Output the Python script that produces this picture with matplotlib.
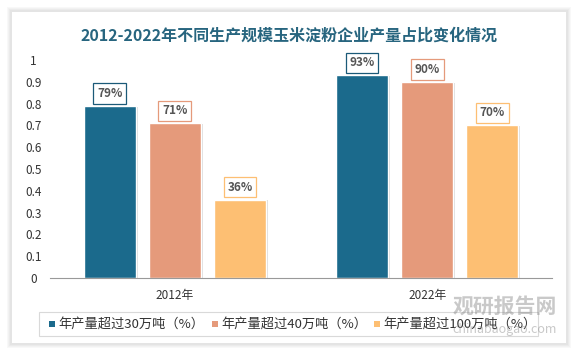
import numpy as np
import matplotlib.pyplot as plt
from matplotlib.patches import Rectangle

plt.rcParams['font.family'] = ['Noto Sans CJK SC', 'DejaVu Sans']
plt.rcParams['hatch.color'] = '#cfcfcf'
plt.rcParams['hatch.linewidth'] = 0.6

years = ['2012年', '2022年']
series = ['年产量超过30万吨（%）', '年产量超过40万吨（%）', '年产量超过100万吨（%）']
values = [
    [0.79, 0.93],
    [0.71, 0.90],
    [0.36, 0.70],
]
labels = [['79%', '93%'], ['71%', '90%'], ['36%', '70%']]
colors = ['#1b6a8c', '#e59a7b', '#fdbf73']

W, H = 579, 354
fig = plt.figure(figsize=(W / 100, H / 100), dpi=100)
fig.patch.set_facecolor('white')

# card with soft shadow
cx0, cy0, cx1, cy1 = 12, 12, 566, 343
for i, a in enumerate([0.05, 0.05, 0.06, 0.07]):
    d = 5 - i
    fig.patches.append(Rectangle(((cx0 - d) / W, 1 - (cy1 + d) / H),
                                 (cx1 - cx0 + 2 * d) / W, (cy1 - cy0 + 2 * d) / H,
                                 transform=fig.transFigure, facecolor='#888888',
                                 edgecolor='none', alpha=a, zorder=-3))
fig.patches.append(Rectangle((cx0 / W, 1 - cy1 / H), (cx1 - cx0) / W, (cy1 - cy0) / H,
                             transform=fig.transFigure, facecolor='white',
                             edgecolor='none', zorder=-2))

fig.text(289 / W, 1 - 36 / H, '2012-2022年不同生产规模玉米淀粉企业产量占比变化情况',
         ha='center', va='center', fontsize=11.5, fontweight='bold', color='#27657f')

ax = fig.add_axes([50 / W, 1 - 278 / H, 502 / W, 218 / H])
ax.set_facecolor('none')
ax.add_patch(Rectangle((0, 0), 1, 1, transform=ax.transAxes, facecolor='white',
                       edgecolor='none', hatch='\\\\\\\\\\', zorder=0))

x = np.arange(len(years))
bw = 0.206
step = 0.258
for i, (vals, col) in enumerate(zip(values, colors)):
    xs = x + (i - 1) * step
    # shadow
    ax.bar(xs + 0.008, np.array(vals) - 0.004, bw, color='#bbbbbb', alpha=0.5, zorder=1)
    ax.bar(xs, vals, bw, color=col, edgecolor='white', linewidth=1.0, zorder=2,
           label=series[i])
    for xi, v, t in zip(xs, vals, labels[i]):
        ax.text(xi, v + 0.057, t, ha='center', va='center', fontsize=8.5,
                fontweight='bold', color='#555555', zorder=4,
                bbox=dict(boxstyle='square,pad=0.32', facecolor='white',
                          edgecolor=col if i else '#1b5a78', linewidth=0.9))

ax.set_xlim(-0.495, 1.495)
ax.set_ylim(0, 1.0)
ax.set_yticks(np.arange(0, 1.01, 0.1))
ax.set_yticklabels(['0', '0.1', '0.2', '0.3', '0.4', '0.5', '0.6', '0.7', '0.8', '0.9', '1'])
ax.set_xticks(x)
ax.set_xticklabels(years)
ax.tick_params(axis='y', length=0, pad=12, labelsize=8.5, labelcolor='#333333')
ax.tick_params(axis='x', length=0, pad=8, labelsize=8.5, labelcolor='#333333')
for s in ['top', 'right', 'left']:
    ax.spines[s].set_visible(False)
ax.spines['bottom'].set_color('#999999')
ax.spines['bottom'].set_linewidth(0.8)
for lab in ax.get_yticklabels():
    lab.set_horizontalalignment('center')

# legend box
fig.patches.append(Rectangle((39 / W, 1 - 336 / H), (538 - 39) / W, 24 / H,
                             transform=fig.transFigure, facecolor='white',
                             edgecolor='#d9d9d9', linewidth=0.8, zorder=1))
leg_x = [52, 215, 377]
for lx, col, name in zip(leg_x, colors, series):
    fig.patches.append(Rectangle(((lx - 3) / W, 1 - 327 / H), 6 / W, 6 / H,
                                 transform=fig.transFigure, facecolor=col,
                                 edgecolor='none', zorder=2))
    fig.text((lx + 6) / W, 1 - 324 / H, name, ha='left', va='center', fontsize=9.5,
             color='#333333', zorder=3)

# watermark
fig.text(505 / W, 1 - 306 / H, '观研报告网', ha='center', va='center', fontsize=15,
         fontweight='bold', color='#888888', alpha=0.45, zorder=5)
fig.text(505 / W, 1 - 329 / H, 'chinabaogao.com', ha='center', va='center', fontsize=9,
         color='#888888', alpha=0.45, zorder=5)

fig.savefig('out.png', dpi=100)
